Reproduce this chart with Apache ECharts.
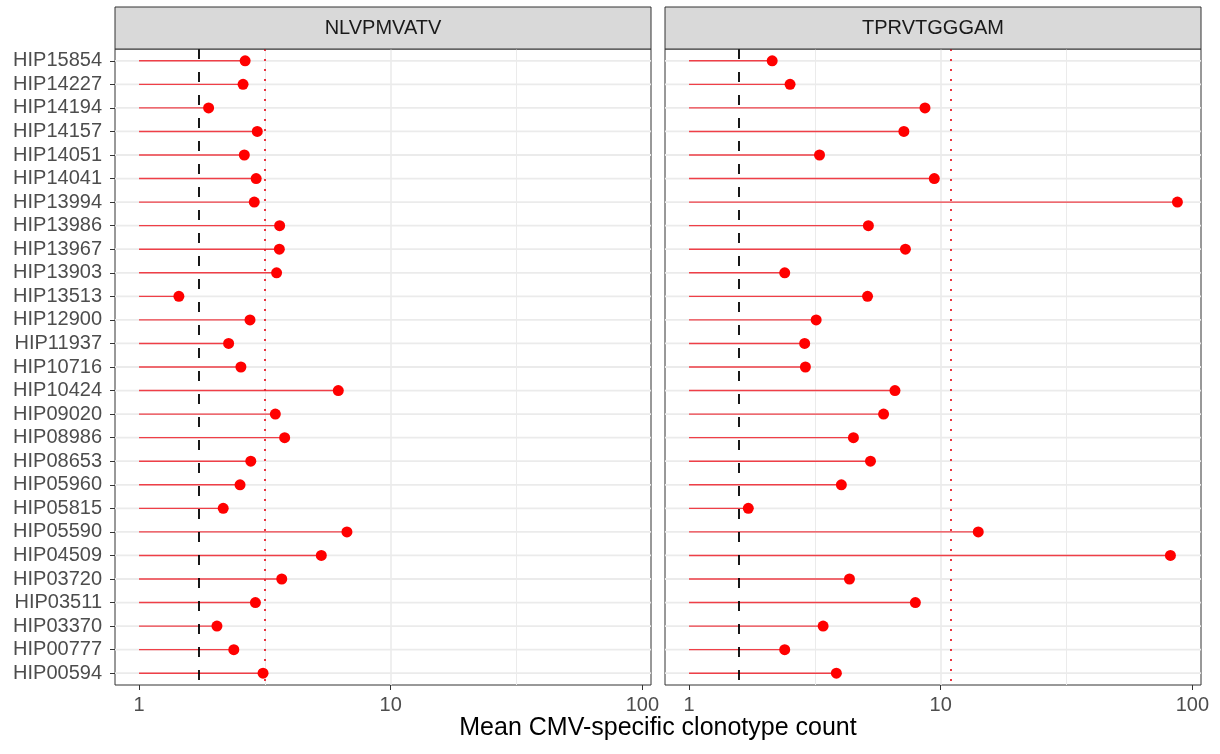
<!DOCTYPE html>
<html>
<head>
<meta charset="utf-8">
<title>Mean CMV-specific clonotype count</title>
<script src="https://cdn.jsdelivr.net/npm/echarts@6/dist/echarts.min.js"></script>
<style>
  html, body { margin: 0; padding: 0; background: #fff; }
  #chart { width: 1220px; height: 754px; }
</style>
</head>
<body>
<div id="chart"></div>
<script>
// patients, listed top to bottom as in the figure
const patients = ['HIP15854', 'HIP14227', 'HIP14194', 'HIP14157', 'HIP14051', 'HIP14041', 'HIP13994',
  'HIP13986', 'HIP13967', 'HIP13903', 'HIP13513', 'HIP12900', 'HIP11937', 'HIP10716', 'HIP10424',
  'HIP09020', 'HIP08986', 'HIP08653', 'HIP05960', 'HIP05815', 'HIP05590', 'HIP04509', 'HIP03720',
  'HIP03511', 'HIP03370', 'HIP00777', 'HIP00594'];

const epitopes = ['NLVPMVATV', 'TPRVTGGGAM'];

// mean clonotype count per patient, same order as patients
const nlvCounts = [2.64, 2.59, 1.89, 2.95, 2.62, 2.92, 2.87, 3.62, 3.61, 3.52, 1.44, 2.76, 2.27, 2.54,
  6.19, 3.48, 3.79, 2.78, 2.52, 2.16, 6.70, 5.30, 3.69, 2.90, 2.04, 2.38, 3.11];
const tprCounts = [2.14, 2.52, 8.66, 7.14, 3.30, 9.43, 87.2, 5.16, 7.24, 2.40, 5.12, 3.20, 2.88, 2.90,
  6.58, 5.93, 4.50, 5.26, 4.03, 1.72, 14.1, 81.8, 4.34, 7.93, 3.41, 2.40, 3.85];

// reference lines per panel
const dashedRef = [1.72, 1.57];
const dottedRef = [3.16, 10.95];

const xTicks = [1, 10, 100];
const minorBreaks = [3.162, 31.62];
const xLimits = [0.8027, 108.2];

const counts = [nlvCounts, tprCounts];

// layout
const panels = [{ left: 115, right: 651 }, { left: 665, right: 1201 }];
const panelTop = 49, panelBottom = 685, stripTop = 7;
const fontFamily = '"Liberation Sans", Arial, Helvetica, sans-serif';

const chart = echarts.init(document.getElementById('chart'));

const grids = [], xAxes = [], yAxes = [], series = [], graphics = [];

panels.forEach((p, k) => {
  grids.push({
    left: p.left, top: panelTop,
    width: p.right - p.left, height: panelBottom - panelTop,
    show: true, borderColor: '#333333', borderWidth: 1, backgroundColor: '#ffffff'
  });

  xAxes.push({
    type: 'log', logBase: 10, gridIndex: k,
    min: xLimits[0], max: xLimits[1],
    axisLine: { show: false },
    axisTick: { show: true, customValues: xTicks, length: 5, lineStyle: { color: '#333333', width: 1 } },
    axisLabel: { customValues: xTicks, fontSize: 20, color: '#4D4D4D', margin: 10, fontFamily: fontFamily,
      formatter: v => String(v) },
    splitLine: { show: true, showMinLine: false, showMaxLine: false,
      lineStyle: { color: '#EBEBEB', width: 1.6 } }
  });

  yAxes.push({
    type: 'category', gridIndex: k, data: patients, inverse: true,
    axisLine: { show: false },
    axisTick: { show: k === 0, alignWithLabel: true, interval: 0, length: 5,
      lineStyle: { color: '#333333', width: 1 } },
    axisLabel: { show: k === 0, interval: 0, fontSize: 20, color: '#4D4D4D', margin: 13, fontFamily: fontFamily },
    splitLine: { show: false }
  });

  // horizontal grid lines at every patient + minor vertical grid lines
  series.push({
    type: 'custom', xAxisIndex: k, yAxisIndex: k, z: 1, silent: true,
    data: patients.map((name, i) => [1, i]),
    renderItem: (params, api) => {
      const y = api.coord([1, api.value(1)])[1];
      const cs = params.coordSys;
      return {
        type: 'line',
        shape: { x1: cs.x, y1: y, x2: cs.x + cs.width, y2: y },
        style: { stroke: '#EBEBEB', lineWidth: 1.8 }
      };
    },
    markLine: {
      z: 1, silent: true, symbol: ['none', 'none'], label: { show: false },
      lineStyle: { color: '#EBEBEB', width: 1, type: 'solid' },
      data: minorBreaks.map(v => ({ xAxis: v }))
    }
  });

  // lollipop sticks from 1 to the value
  series.push({
    type: 'custom', xAxisIndex: k, yAxisIndex: k, z: 3, silent: true,
    data: counts[k].map((v, i) => [v, i]),
    renderItem: (params, api) => {
      const start = api.coord([1, api.value(1)]);
      const end = api.coord([api.value(0), api.value(1)]);
      return {
        type: 'line',
        shape: { x1: start[0], y1: start[1], x2: end[0], y2: end[1] },
        style: { stroke: 'rgba(240,20,30,0.8)', lineWidth: 1.4 }
      };
    }
  });

  // points + reference lines
  series.push({
    type: 'scatter', xAxisIndex: k, yAxisIndex: k, z: 10,
    symbol: 'circle', symbolSize: 11,
    itemStyle: { color: '#FF0000', opacity: 1 },
    data: counts[k].map((v, i) => [v, i]),
    markLine: {
      z: 5, silent: true, symbol: ['none', 'none'], label: { show: false },
      data: [
        { xAxis: dashedRef[k], lineStyle: { color: '#000000', width: 1.8, type: [10, 13] } },
        { xAxis: dottedRef[k], lineStyle: { color: '#E8202E', width: 1.8, type: [2, 8] } }
      ]
    }
  });

  // facet strip
  graphics.push({
    type: 'rect', z: 20,
    shape: { x: p.left, y: stripTop, width: p.right - p.left, height: panelTop - stripTop },
    style: { fill: '#D9D9D9', stroke: '#333333', lineWidth: 1 }
  });
  graphics.push({
    type: 'text', z: 21,
    x: (p.left + p.right) / 2, y: (stripTop + panelTop) / 2,
    style: { text: epitopes[k], fontSize: 20, fill: '#1A1A1A', fontFamily: fontFamily,
      textAlign: 'center', textVerticalAlign: 'middle' }
  });
});

// shared x axis title
graphics.push({
  type: 'text', z: 21,
  x: (panels[0].left + panels[1].right) / 2, y: 728,
  style: { text: 'Mean CMV-specific clonotype count', fontSize: 25, fill: '#000000', fontFamily: fontFamily,
    textAlign: 'center', textVerticalAlign: 'middle' }
});

chart.setOption({
  animation: false,
  backgroundColor: '#ffffff',
  grid: grids,
  xAxis: xAxes,
  yAxis: yAxes,
  series: series,
  graphic: graphics
});
</script>
</body>
</html>
